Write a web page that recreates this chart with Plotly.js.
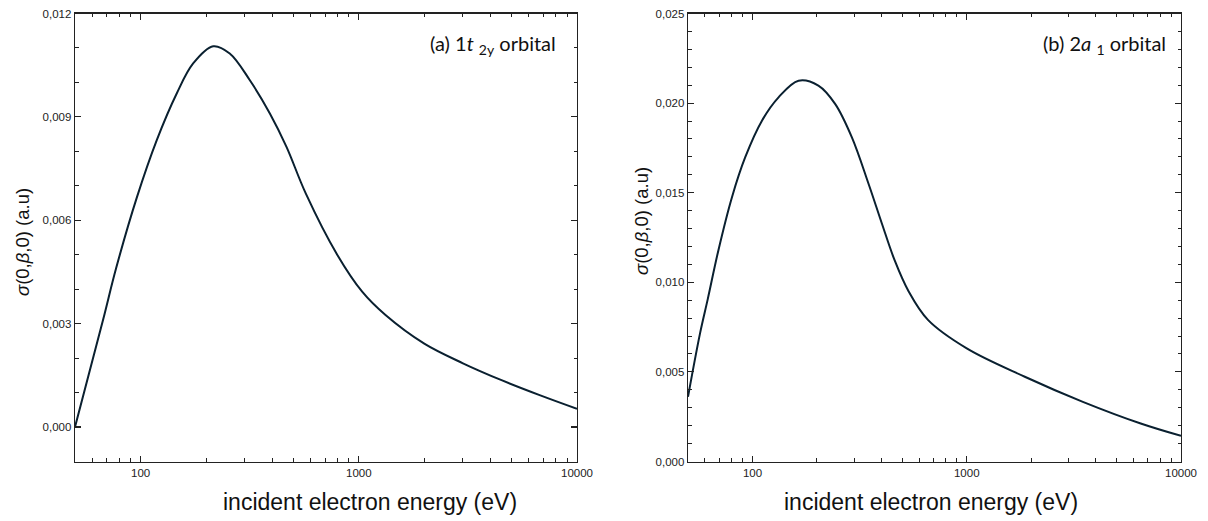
<!DOCTYPE html>
<html>
<head>
<meta charset="utf-8">
<script src="https://cdn.plot.ly/plotly-3.0.1.min.js"></script>
<style>html,body{margin:0;padding:0;background:#fff;}#chart{width:1208px;height:521px;}</style>
</head>
<body>
<div id="chart"></div>
<script>
// Panel (a) 1t2y orbital
const energyA = [50, 67.3, 77.1, 95.9, 118.4, 146.3, 174, 215, 256, 316, 391, 466, 571, 796, 1038, 1325, 1995, 3000, 4509, 6790, 10000];
const sigmaA  = [0.0000, 0.00312, 0.0046, 0.00665, 0.00832, 0.00968, 0.01055, 0.01105, 0.01084, 0.01007, 0.00910, 0.00813, 0.00678, 0.00500, 0.00392, 0.00325, 0.00242, 0.00185, 0.00136, 0.00092, 0.00053];
// Panel (b) 2a1 orbital
const energyB = [50, 56.9, 61.9, 69.3, 80.2, 92.5, 110.7, 132.3, 164, 203, 243, 291, 348, 402, 461, 535, 659, 1000, 1866, 3483, 6486, 10000];
const sigmaB  = [0.00361, 0.00715, 0.00909, 0.01178, 0.01475, 0.01698, 0.01902, 0.02032, 0.02125, 0.02098, 0.01996, 0.01809, 0.01550, 0.01327, 0.01122, 0.00950, 0.00790, 0.00631, 0.00473, 0.00333, 0.00212, 0.00143];

const xTickVals = [100, 1000, 10000];
const xTickText = ["100", "1000", "10000"];
const xMinorVals = [60, 70, 80, 90, 200, 300, 400, 500, 600, 700, 800, 900, 2000, 3000, 4000, 5000, 6000, 7000, 8000, 9000];

const labelA = "(a) 1<i>t</i> <sub>2y</sub> orbital";
const labelB = "(b) 2<i>a</i> <sub>1</sub> orbital";
const xTitle = "incident electron energy (eV)";
const yTitle = "<i>σ</i>(0,<i>β</i>,0) (a.u)";

const lineColor = '#0a2030';
const axisColor = '#222';
const W = 1208, H = 521;
const tickFont = {family: 'Liberation Sans, Arial, sans-serif', size: 11.5, color: '#222'};

function xaxisCfg(domain) {
  return {
    type: 'log', domain: domain, range: [Math.log10(50), 4],
    tickmode: 'array', tickvals: xTickVals, ticktext: xTickText,
    ticks: 'inside', ticklen: 6, tickwidth: 1.2, tickcolor: axisColor,
    showline: true, linecolor: axisColor, linewidth: 1.3, mirror: 'allticks',
    showgrid: false, zeroline: false, tickfont: tickFont,
    minor: {tickmode: 'array', tickvals: xMinorVals, ticks: 'inside', ticklen: 3.5, tickwidth: 1, tickcolor: axisColor, showgrid: false}
  };
}
function yaxisCfg(range, dtick, anchor) {
  return {
    domain: [1 - 461.5 / H, 1 - 13.5 / H], range: range, anchor: anchor,
    tick0: 0, dtick: dtick, tickformat: '.3f',
    ticks: 'inside', ticklen: 6, tickwidth: 1.2, tickcolor: axisColor,
    showline: true, linecolor: axisColor, linewidth: 1.3, mirror: 'allticks',
    showgrid: false, zeroline: false, tickfont: tickFont,
    minor: {dtick: 0.001, tick0: 0, ticks: 'inside', ticklen: 3.5, tickwidth: 1, tickcolor: axisColor, showgrid: false}
  };
}

const data = [
  {x: energyA, y: sigmaA, type: 'scatter', mode: 'lines', xaxis: 'x', yaxis: 'y',
   line: {color: lineColor, width: 2, shape: 'spline', smoothing: 1.0}, hoverinfo: 'skip'},
  {x: energyB, y: sigmaB, type: 'scatter', mode: 'lines', xaxis: 'x2', yaxis: 'y2',
   line: {color: lineColor, width: 2, shape: 'spline', smoothing: 1.0}, hoverinfo: 'skip'}
];

const titleFont = {family: 'Liberation Sans, Arial, sans-serif', size: 23, color: '#111'};
const yTitleFont = {family: 'Liberation Sans, Arial, sans-serif', size: 18.5, color: '#111'};
const labelFont = {family: 'Lato, Open Sans, sans-serif', size: 20, color: '#111'};

const layout = {
  width: W, height: H,
  margin: {l: 0, r: 0, t: 0, b: 0},
  paper_bgcolor: '#fff', plot_bgcolor: '#fff',
  showlegend: false,
  separators: ',.',
  xaxis: Object.assign(xaxisCfg([75 / W, 577 / W]), {anchor: 'y'}),
  yaxis: yaxisCfg([-0.001, 0.012], 0.003, 'x'),
  xaxis2: Object.assign(xaxisCfg([688 / W, 1181 / W]), {anchor: 'y2'}),
  yaxis2: yaxisCfg([0, 0.025], 0.005, 'x2'),
  annotations: [
    {xref: 'paper', yref: 'paper', x: 370 / W, y: 1 - 502 / H, text: xTitle, showarrow: false, font: titleFont, xanchor: 'center', yanchor: 'middle'},
    {xref: 'paper', yref: 'paper', x: 931 / W, y: 1 - 502 / H, text: xTitle, showarrow: false, font: titleFont, xanchor: 'center', yanchor: 'middle'},
    {xref: 'paper', yref: 'paper', x: 22 / W, y: 1 - 242 / H, text: yTitle, showarrow: false, font: yTitleFont, textangle: -90, xanchor: 'center', yanchor: 'middle'},
    {xref: 'paper', yref: 'paper', x: 641 / W, y: 1 - 221 / H, text: yTitle, showarrow: false, font: yTitleFont, textangle: -90, xanchor: 'center', yanchor: 'middle'},
    {xref: 'paper', yref: 'paper', x: 558 / W, y: 1 - 45 / H, text: labelA, showarrow: false, font: labelFont, xanchor: 'right', yanchor: 'middle'},
    {xref: 'paper', yref: 'paper', x: 1167.5 / W, y: 1 - 45 / H, text: labelB, showarrow: false, font: labelFont, xanchor: 'right', yanchor: 'middle'}
  ]
};

Plotly.newPlot('chart', data, layout, {staticPlot: true, displayModeBar: false});
</script>
</body>
</html>
